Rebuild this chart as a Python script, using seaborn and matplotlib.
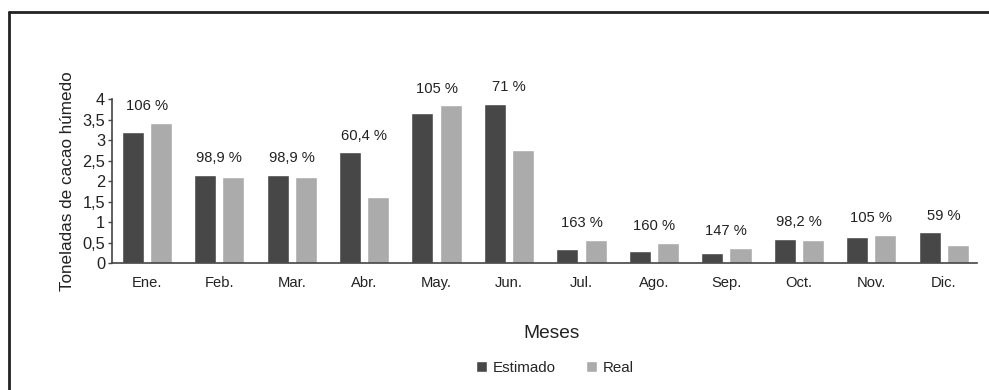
import matplotlib
matplotlib.use("Agg")
import matplotlib.pyplot as plt
from matplotlib.lines import Line2D
import seaborn as sns
import pandas as pd

meses = ["Ene.", "Feb.", "Mar.", "Abr.", "May.", "Jun.", "Jul.", "Ago.", "Sep.", "Oct.", "Nov.", "Dic."]
estimado = [3.19, 2.15, 2.15, 2.70, 3.65, 3.88, 0.33, 0.29, 0.25, 0.59, 0.64, 0.75]
real = [3.42, 2.09, 2.09, 1.60, 3.85, 2.75, 0.56, 0.49, 0.37, 0.56, 0.68, 0.43]
porcentajes = ["106 %", "98,9 %", "98,9 %", "60,4 %", "105 %", "71 %",
               "163 %", "160 %", "147 %", "98,2 %", "105 %", "59 %"]
series = ["Estimado", "Real"]
yticks = [0, 0.5, 1, 1.5, 2, 2.5, 3, 3.5, 4]
ytick_labels = ["0", "0,5", "1", "1,5", "2", "2,5", "3", "3,5", "4"]

df = pd.DataFrame({
    "Mes": meses * 2,
    "Serie": [series[0]] * len(meses) + [series[1]] * len(meses),
    "Toneladas": estimado + real,
})

sns.set_theme(style="white")
plt.rcParams["font.family"] = ["Liberation Sans", "DejaVu Sans"]

fig = plt.figure(figsize=(9.89, 3.90), dpi=100)
ax = fig.add_axes([0.1133, 0.3256, 0.8746, 0.4205])

palette = {"Estimado": "#474747", "Real": "#ababab"}
sns.barplot(data=df, x="Mes", y="Toneladas", hue="Serie", order=meses,
            hue_order=series, palette=palette, width=0.78, gap=0.22,
            saturation=1, ax=ax, legend=True)

ax.set_ylim(0, 4)
ax.set_xlim(-0.48, 11.46)
ax.set_yticks(yticks)
ax.set_yticklabels(ytick_labels, fontsize=11.8, color="#222222")
ax.tick_params(axis="y", length=3, width=1, color="#444444", pad=2, left=True)
ax.tick_params(axis="x", length=0, labelsize=10.6, labelcolor="#222222", pad=9)
ax.set_ylabel("Toneladas de cacao húmedo", fontsize=12.3, color="#222222", labelpad=5)
ax.set_xlabel("Meses", fontsize=13.8, color="#222222")
ax.xaxis.set_label_coords(0.508, -0.38)

for s in ["top", "right"]:
    ax.spines[s].set_visible(False)
for s in ["left", "bottom"]:
    ax.spines[s].set_color("#444444")
    ax.spines[s].set_linewidth(1.2)

tops = [max(a, b) for a, b in zip(estimado, real)]
for i, (t, lab) in enumerate(zip(tops, porcentajes)):
    ax.annotate(lab, xy=(i, t), xytext=(0, 12), textcoords="offset points",
                ha="center", va="center", fontsize=10.6, color="#222222")

handles, labels = ax.get_legend_handles_labels()
ax.legend(handles, labels, loc="center", bbox_to_anchor=(0.512, -0.64),
          ncol=2, frameon=False, fontsize=10.9, handlelength=0.7,
          handleheight=0.7, handletextpad=0.4, columnspacing=2.0)

# scanned page frame (top and left edges)
fig.add_artist(Line2D([0.0086, 1.0], [0.9705, 0.9705], transform=fig.transFigure,
                      color="#222222", linewidth=2.0))
fig.add_artist(Line2D([0.0096, 0.0096], [0.0, 0.9705], transform=fig.transFigure,
                      color="#222222", linewidth=2.0))

fig.savefig("out.png", dpi=100, facecolor="white")
